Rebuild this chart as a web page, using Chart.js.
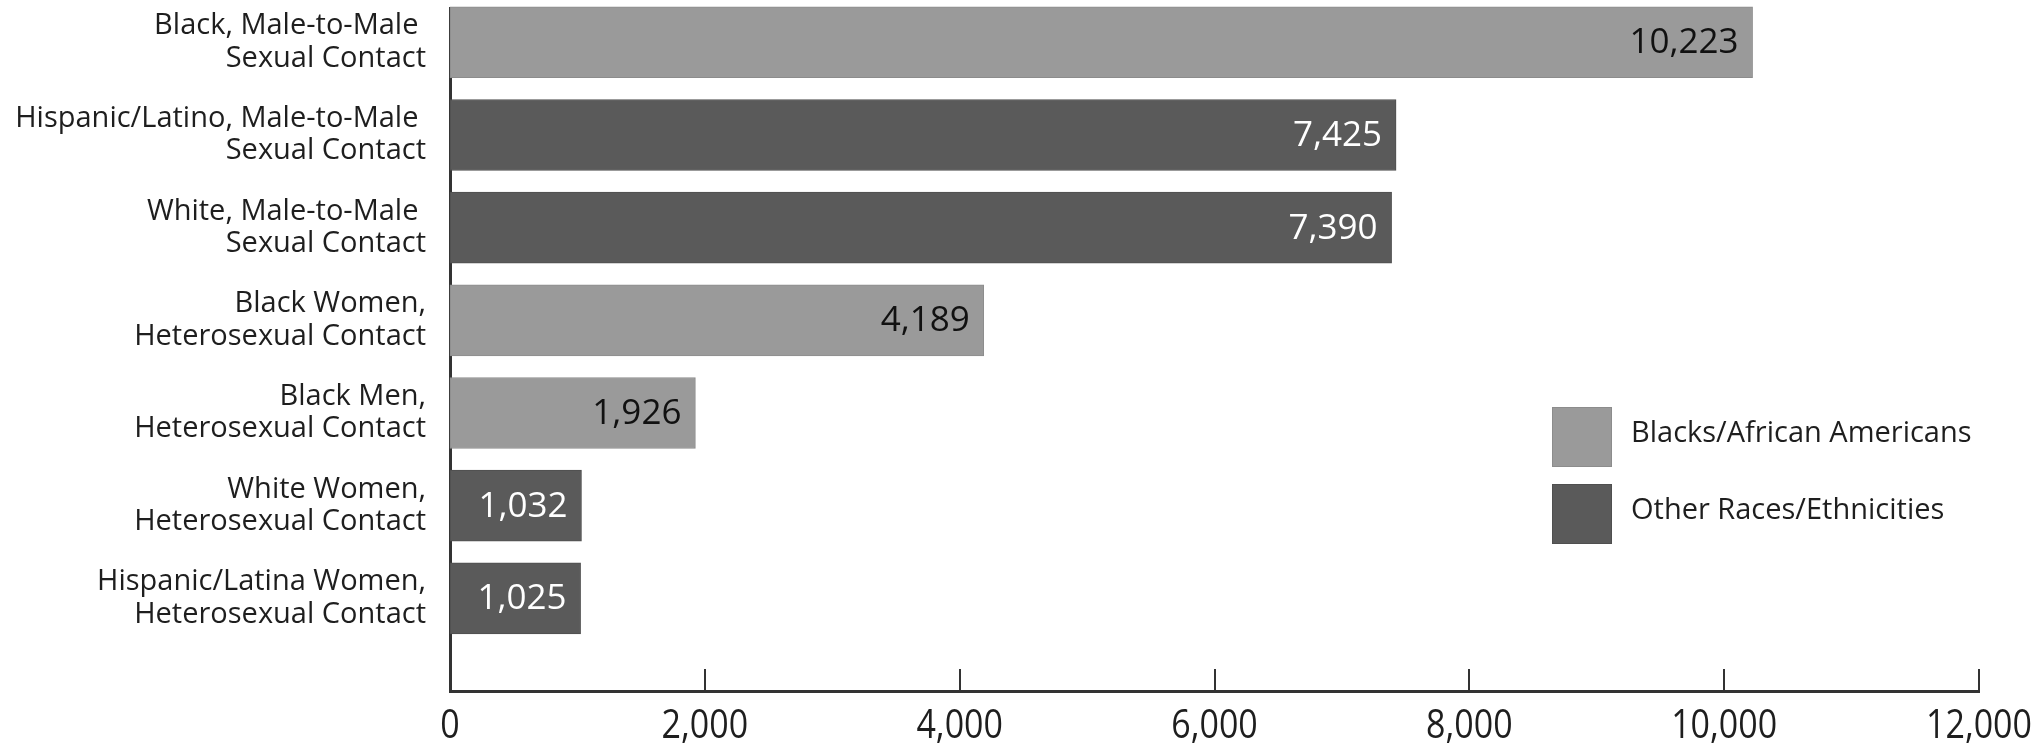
<!DOCTYPE html>
<html>
<head>
<meta charset="utf-8">
<title>HIV diagnoses by transmission group</title>
<script src="https://cdn.jsdelivr.net/npm/chart.js@4.4.1/dist/chart.umd.min.js"></script>
<style>
  html, body { margin: 0; padding: 0; background: #fff; }
  canvas { display: block; }
</style>
</head>
<body>
<canvas id="chart" width="2040" height="752"></canvas>
<script>
'use strict';

// categories, top to bottom (two lines each)
var categories = [
  ['Black, Male-to-Male ', 'Sexual Contact'],
  ['Hispanic/Latino, Male-to-Male ', 'Sexual Contact'],
  ['White, Male-to-Male ', 'Sexual Contact'],
  ['Black Women,', 'Heterosexual Contact'],
  ['Black Men,', 'Heterosexual Contact'],
  ['White Women,', 'Heterosexual Contact'],
  ['Hispanic/Latina Women,', 'Heterosexual Contact']
];
var diagnoses = [10223, 7425, 7390, 4189, 1926, 1032, 1025];
// which legend group each bar belongs to (0 = Blacks, 1 = other)
var groups = [0, 1, 1, 0, 0, 1, 1];
var groupNames = ['Blacks/African Americans', 'Other Races/Ethnicities'];
var xTicks = [0, 2000, 4000, 6000, 8000, 10000, 12000];

var groupColors = ['#9a9a9a', '#5a5a5a'];
var groupBorders = ['#8c8c8c', '#4f4f4f'];
var valueColors = ['#111111', '#ffffff'];
var textColor = '#1e1e1e';
var axisColor = '#333333';

function formatNumber(n) {
  return n.toLocaleString('en-US');
}

var points = [];
for (var i = 0; i < diagnoses.length; i++) {
  points.push({ x: diagnoses[i], y: i });
}

//value labels inside the end of each bar
var valueLabels = {
  id: 'valueLabels',
  afterDatasetsDraw: function(chart) {
    var ctx = chart.ctx;
    var meta = chart.getDatasetMeta(0);
    ctx.save();
    ctx.font = '35px "Open Sans"';
    ctx.textAlign = 'right';
    ctx.textBaseline = 'middle';
    for (var i = 0; i < meta.data.length; i++) {
      var bar = meta.data[i];
      ctx.fillStyle = valueColors[groups[i]];
      ctx.fillText(formatNumber(diagnoses[i]), bar.x - 14, bar.y + 1);
    }
    ctx.restore();
  }
};

//x axis: tick marks pointing up, and narrow tick labels below
var xAxisMarks = {
  id: 'xAxisMarks',
  afterDraw: function(chart) {
    var ctx = chart.ctx;
    var xs = chart.scales.x;
    var bottom = chart.chartArea.bottom;
    ctx.save();
    ctx.strokeStyle = axisColor;
    ctx.lineWidth = 2;
    for (var i = 1; i < xTicks.length; i++) {
      var px = Math.round(xs.getPixelForValue(xTicks[i]));
      ctx.beginPath();
      ctx.moveTo(px, bottom - 22);
      ctx.lineTo(px, bottom);
      ctx.stroke();
    }
    ctx.fillStyle = textColor;
    ctx.font = '40px "Open Sans"';
    ctx.textAlign = 'center';
    ctx.textBaseline = 'middle';
    for (var j = 0; j < xTicks.length; j++) {
      var tx = xs.getPixelForValue(xTicks[j]);
      ctx.save();
      ctx.translate(tx, bottom + 36);
      ctx.scale(0.85, 1);
      ctx.fillText(formatNumber(xTicks[j]), 0, 0);
      ctx.restore();
    }
    ctx.restore();
  }
};

//legend boxes sitting inside the plot on the right
var boxLegend = {
  id: 'boxLegend',
  afterDraw: function(chart) {
    var ctx = chart.ctx;
    var left = 1552;
    var tops = [407, 484];
    ctx.save();
    ctx.font = '29px "Open Sans"';
    ctx.textAlign = 'left';
    ctx.textBaseline = 'middle';
    for (var i = 0; i < groupNames.length; i++) {
      ctx.fillStyle = groupColors[i];
      ctx.fillRect(left, tops[i], 60, 60);
      ctx.strokeStyle = groupBorders[i];
      ctx.lineWidth = 1;
      ctx.strokeRect(left + 0.5, tops[i] + 0.5, 59, 59);
      ctx.fillStyle = textColor;
      ctx.fillText(groupNames[i], 1631, tops[i] + 27);
    }
    ctx.restore();
  }
};

var ctx = document.getElementById('chart');

var diagnosesChart = new Chart(ctx, {
  type: 'bar',
  data: {
    datasets: [{
      label: 'Diagnoses',
      data: points,
      backgroundColor: groups.map(function(g) { return groupColors[g]; }),
      borderColor: groups.map(function(g) { return groupBorders[g]; }),
      borderWidth: 1,
      borderSkipped: false,
      barThickness: 71,
      clip: false
    }]
  },
  options: {
    indexAxis: 'y',
    responsive: false,
    animation: false,
    layout: { padding: { top: 8, right: 61, bottom: 0, left: 0 } },
    plugins: {
      legend: { display: false },
      tooltip: { enabled: false }
    },
    scales: {
      x: {
        type: 'linear',
        min: 0,
        max: 12000,
        afterBuildTicks: function(scale) {
          scale.ticks = xTicks.map(function(v) { return { value: v }; });
        },
        afterFit: function(scale) {
          scale.height = 61;
          scale.paddingLeft = 0;
          scale.paddingRight = 0;
        },
        grid: { display: false },
        border: { display: true, color: axisColor, width: 3 },
        ticks: { display: false }
      },
      y: {
        type: 'linear',
        reverse: true,
        offset: false,
        min: -0.37,
        max: 7,
        afterBuildTicks: function(scale) {
          scale.ticks = categories.map(function(c, i) { return { value: i }; });
        },
        afterFit: function(scale) {
          scale.width = 450;
          scale.paddingTop = 0;
          scale.paddingBottom = 0;
        },
        grid: { display: false },
        border: { display: true, color: axisColor, width: 3 },
        ticks: {
          padding: 16,
          color: textColor,
          autoSkip: false,
          font: { family: '"Open Sans", sans-serif', size: 29, lineHeight: 1.12 },
          callback: function(v) { return categories[v]; }
        }
      }
    }
  },
  plugins: [valueLabels, xAxisMarks, boxLegend]
});
</script>
</body>
</html>
